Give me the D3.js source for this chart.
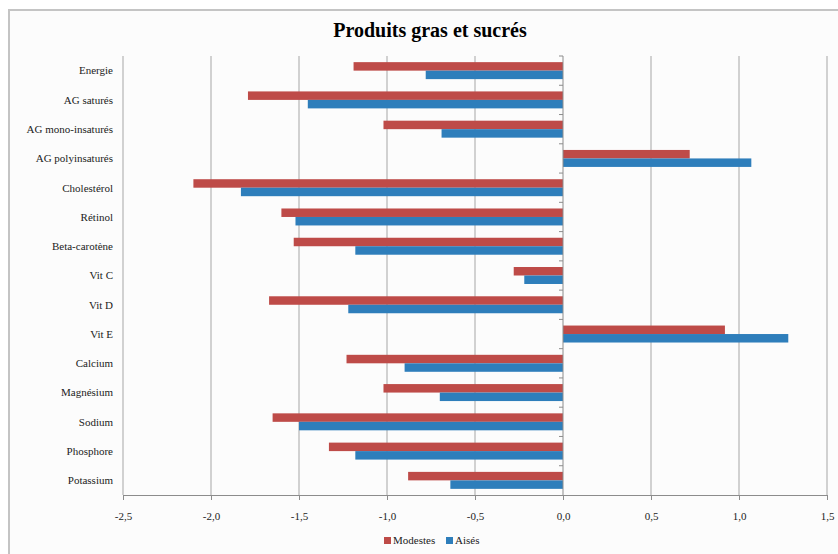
<!DOCTYPE html>
<html>
<head>
<meta charset="utf-8">
<script src="https://cdn.jsdelivr.net/npm/d3@7"></script>
<style>
  body { margin: 0; background: #ffffff; }
  svg { display: block; }
  svg text { font-family: "Liberation Serif", "Times New Roman", serif; }
</style>
</head>
<body>
<svg id="chart" width="838" height="554"></svg>
<script>
// Categories, top to bottom
var categories = ["Energie", "AG saturés", "AG mono-insaturés", "AG polyinsaturés",
  "Cholestérol", "Rétinol", "Beta-carotène", "Vit C", "Vit D", "Vit E",
  "Calcium", "Magnésium", "Sodium", "Phosphore", "Potassium"];

var seriesNames = ["Modestes", "Aisés"];

var modestes = [-1.19, -1.79, -1.02, 0.72, -2.10, -1.60, -1.53, -0.28, -1.67, 0.92,
  -1.23, -1.02, -1.65, -1.33, -0.88];

var aises = [-0.78, -1.45, -0.69, 1.07, -1.83, -1.52, -1.18, -0.22, -1.22, 1.28,
  -0.90, -0.70, -1.50, -1.18, -0.64];

var xTicks = [-2.5, -2.0, -1.5, -1.0, -0.5, 0.0, 0.5, 1.0, 1.5];

var colors = ["#be4b48", "#2e7ebb"];

var svg = d3.select("#chart");

// Chart frame
svg.append("rect")
    .attr("x", 9).attr("y", 10)
    .attr("width", 840).attr("height", 560)
    .attr("fill", "#fcfcfc")
    .attr("stroke", "#c4c4c4")
    .attr("stroke-width", 2);

svg.append("text")
    .attr("x", 430).attr("y", 37)
    .attr("text-anchor", "middle")
    .style("font-weight", "bold")
    .style("font-size", "20px")
    .attr("fill", "#000")
    .text("Produits gras et sucrés");

var x = d3.scaleLinear().domain([-2.5, 1.5]).range([123, 827]);
var y = d3.scaleBand().domain(categories).range([56, 495]);
var y1 = d3.scaleBand().domain(seriesNames)
    .range([y.bandwidth() * 0.21, y.bandwidth() * 0.79]);

// Vertical gridlines
svg.append("g").selectAll("line")
    .data(xTicks.filter(function(d) { return d !== 0; }))
    .enter().append("line")
    .attr("x1", function(d) { return x(d); })
    .attr("x2", function(d) { return x(d); })
    .attr("y1", 56).attr("y2", 495)
    .attr("stroke", "#a6a6a6")
    .attr("stroke-width", 1);

// Bars
var data = [];
categories.forEach(function(c, i) {
    data.push({cat: c, s: seriesNames[0], v: modestes[i], col: colors[0]});
    data.push({cat: c, s: seriesNames[1], v: aises[i], col: colors[1]});
});

svg.append("g").selectAll("rect")
    .data(data)
    .enter().append("rect")
    .attr("x", function(d) { return x(Math.min(0, d.v)); })
    .attr("y", function(d) { return y(d.cat) + y1(d.s); })
    .attr("width", function(d) { return Math.abs(x(d.v) - x(0)); })
    .attr("height", y1.bandwidth())
    .attr("fill", function(d) { return d.col; });

// Zero axis with category ticks
svg.append("line")
    .attr("x1", x(0)).attr("x2", x(0))
    .attr("y1", 56).attr("y2", 495)
    .attr("stroke", "#8c8c8c");

svg.append("g").selectAll("line")
    .data(categories)
    .enter().append("line")
    .attr("x1", x(0) - 4).attr("x2", x(0))
    .attr("y1", function(d) { return y(d); })
    .attr("y2", function(d) { return y(d); })
    .attr("stroke", "#8c8c8c");

// Category labels
svg.append("g").selectAll("text")
    .data(categories)
    .enter().append("text")
    .attr("x", 113)
    .attr("y", function(d) { return y(d) + y.bandwidth() / 2; })
    .attr("dy", "0.35em")
    .attr("text-anchor", "end")
    .style("font-size", "11px")
    .attr("fill", "#222")
    .text(function(d) { return d; });

// Bottom axis
var fmt = function(d) { return d3.format(".1f")(d).replace(".", ",").replace("−", "-"); };
var axis = svg.append("g")
    .attr("transform", "translate(0,495)")
    .call(d3.axisBottom(x).tickValues(xTicks).tickSize(5).tickPadding(12).tickFormat(fmt));
axis.attr("font-family", null);
axis.select(".domain").attr("stroke", "#8c8c8c");
axis.selectAll(".tick line").attr("stroke", "#8c8c8c");
axis.selectAll(".tick text")
    .style("font-size", "11px")
    .attr("fill", "#222");

// Legend
var legendX = [384, 446];
var legend = svg.append("g").selectAll("g")
    .data(seriesNames)
    .enter().append("g")
    .attr("transform", function(d, i) { return "translate(" + legendX[i] + ",537)"; });
legend.append("rect")
    .attr("width", 7).attr("height", 7)
    .attr("fill", function(d, i) { return colors[i]; });
legend.append("text")
    .attr("x", 9).attr("y", 7)
    .style("font-size", "11px")
    .attr("fill", "#222")
    .text(function(d) { return d; });
</script>
</body>
</html>
